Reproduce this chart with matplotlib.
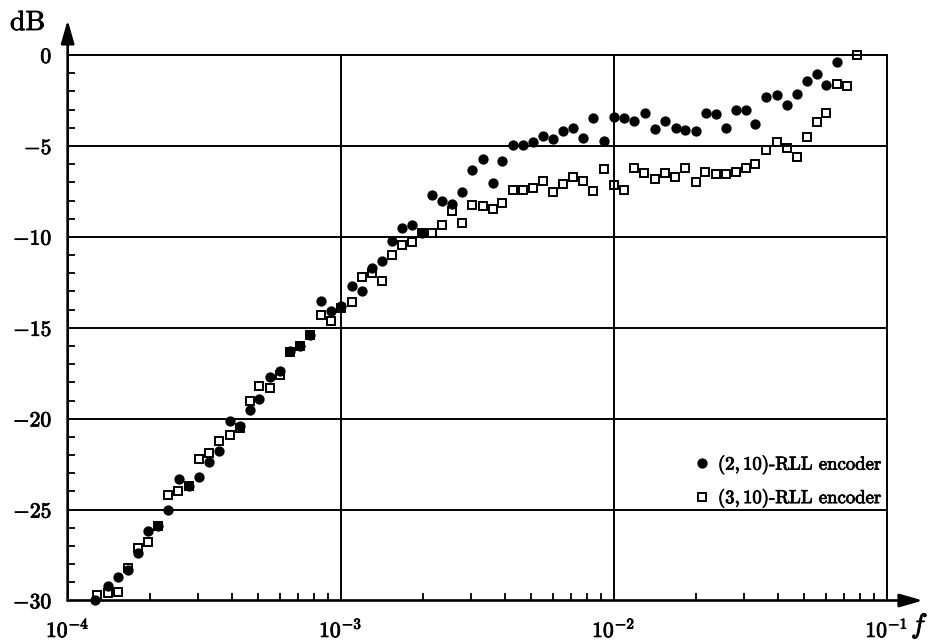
import numpy as np
import matplotlib
matplotlib.use("Agg")
import matplotlib.pyplot as plt
import matplotlib.patheffects as pe
from matplotlib.ticker import FixedLocator, NullFormatter

plt.rcParams['font.family'] = ['cmr10', 'DejaVu Serif']
plt.rcParams['mathtext.fontset'] = 'cm'
plt.rcParams['axes.unicode_minus'] = False

# (2,10)-RLL encoder: frequency and level (dB)
f_rll210 = [1.260e-4, 1.408e-4, 1.524e-4, 1.668e-4, 1.805e-4, 1.963e-4, 2.149e-4, 2.336e-4,
            2.557e-4, 2.787e-4, 3.038e-4, 3.302e-4, 3.590e-4, 3.930e-4, 4.272e-4, 4.656e-4,
            5.030e-4, 5.503e-4, 5.998e-4, 6.521e-4, 7.091e-4, 7.725e-4, 8.439e-4, 9.216e-4,
            1.0018e-3, 1.097e-3, 1.193e-3, 1.299e-3, 1.413e-3, 1.547e-3, 1.681e-3, 1.828e-3,
            1.992e-3, 2.165e-3, 2.354e-3, 2.565e-3, 2.789e-3, 3.033e-3, 3.328e-3, 3.619e-3,
            3.915e-3, 4.286e-3, 4.661e-3, 5.077e-3, 5.521e-3, 6.003e-3, 6.539e-3, 7.109e-3,
            7.731e-3, 8.427e-3, 9.202e-3, 1.0051e-2, 1.093e-2, 1.191e-2, 1.303e-2, 1.417e-2,
            1.541e-2, 1.687e-2, 1.825e-2, 1.998e-2, 2.173e-2, 2.362e-2, 2.580e-2, 2.798e-2,
            3.042e-2, 3.307e-2, 3.613e-2, 3.956e-2, 4.300e-2, 4.675e-2, 5.094e-2, 5.537e-2,
            6.020e-2, 6.561e-2]
db_rll210 = [-30.0, -29.2, -28.7, -28.3, -27.4, -26.2, -25.9, -25.0,
             -23.3, -23.7, -23.2, -22.4, -21.8, -20.1, -20.4, -19.5,
             -18.9, -17.7, -17.4, -16.3, -16.0, -15.4, -13.5, -14.1,
             -13.8, -12.7, -13.0, -11.7, -11.3, -10.2, -9.5, -9.35,
             -9.8, -7.7, -8.0, -8.2, -7.55, -6.3, -5.7, -7.05,
             -5.85, -4.94, -4.94, -4.8, -4.46, -4.6, -4.15, -4.0,
             -4.57, -3.47, -4.7, -3.4, -3.47, -3.65, -3.19, -4.06,
             -3.65, -4.02, -4.11, -4.2, -3.19, -3.26, -4.0, -3.0,
             -3.0, -3.78, -2.3, -2.17, -2.73, -2.16, -1.42, -1.05,
             -1.66, -0.4]

# (3,10)-RLL encoder
f_rll310 = [1.286e-4, 1.402e-4, 1.524e-4, 1.668e-4, 1.805e-4, 1.972e-4, 2.149e-4, 2.336e-4,
            2.545e-4, 2.787e-4, 3.038e-4, 3.302e-4, 3.590e-4, 3.930e-4, 4.272e-4, 4.656e-4,
            5.030e-4, 5.503e-4, 5.998e-4, 6.521e-4, 7.091e-4, 7.725e-4, 8.439e-4, 9.216e-4,
            1.0018e-3, 1.097e-3, 1.193e-3, 1.299e-3, 1.413e-3, 1.547e-3, 1.681e-3, 1.828e-3,
            1.992e-3, 2.165e-3, 2.354e-3, 2.565e-3, 2.789e-3, 3.033e-3, 3.313e-3, 3.602e-3,
            3.915e-3, 4.286e-3, 4.661e-3, 5.077e-3, 5.521e-3, 6.003e-3, 6.539e-3, 7.109e-3,
            7.731e-3, 8.427e-3, 9.202e-3, 1.0051e-2, 1.093e-2, 1.191e-2, 1.294e-2, 1.417e-2,
            1.541e-2, 1.679e-2, 1.825e-2, 1.998e-2, 2.163e-2, 2.362e-2, 2.574e-2, 2.798e-2,
            3.042e-2, 3.307e-2, 3.613e-2, 3.956e-2, 4.300e-2, 4.675e-2, 5.094e-2, 5.537e-2,
            6.020e-2, 6.561e-2, 7.132e-2, 7.762e-2]
db_rll310 = [-29.7, -29.6, -29.55, -28.2, -27.1, -26.8, -25.9, -24.2,
             -24.0, -23.7, -22.2, -21.9, -21.2, -20.9, -20.5, -19.0,
             -18.2, -18.3, -17.6, -16.35, -16.0, -15.4, -14.3, -14.6,
             -13.9, -13.6, -12.2, -12.0, -12.4, -11.0, -10.45, -10.3,
             -9.8, -9.8, -9.35, -8.6, -9.25, -8.25, -8.3, -8.45,
             -8.15, -7.43, -7.4, -7.3, -6.95, -7.55, -7.1, -6.7,
             -6.9, -7.47, -6.27, -7.13, -7.43, -6.23, -6.47, -6.82,
             -6.49, -6.69, -6.23, -7.0, -6.45, -6.54, -6.54, -6.42,
             -6.21, -5.99, -5.22, -4.8, -5.13, -5.59, -4.52, -3.69,
             -3.17, -1.57, -1.7, 0.0]

labels = [r'$(2,10)$-RLL encoder', r'$(3,10)$-RLL encoder']
y_ticks = [0, -5, -10, -15, -20, -25, -30]
x_ticks = [1e-4, 1e-3, 1e-2, 1e-1]
x_tick_labels = [r'$10^{-4}$', r'$10^{-3}$', r'$10^{-2}$', r'$10^{-1}$']

ink = [pe.withStroke(linewidth=0.6, foreground='black')]

fig = plt.figure(figsize=(9.32, 6.43), dpi=100)
ax = fig.add_axes([0.0726, 0.0661, 0.9177, 0.9028])
ax.set_xscale('log')
ax.set_xlim(1e-4, 10 ** -0.867)
ax.set_ylim(-30, 1.93)
for s in ax.spines.values():
    s.set_visible(False)

# grid lines (bounded box)
for yv in y_ticks[:-1]:
    ax.plot([x_ticks[0], x_ticks[-1]], [yv, yv], color='black', lw=1.4, zorder=1)
for xv in x_ticks[1:]:
    ax.plot([xv, xv], [y_ticks[-1], y_ticks[0]], color='black', lw=1.4, zorder=1)

# axes with arrows
arrow_style = dict(arrowstyle='-|>,head_length=0.7,head_width=0.2',
                   lw=1.9, color='black', mutation_scale=20, shrinkA=0, shrinkB=0)
ax.annotate('', xy=(1.0, 0), xytext=(0, 0), xycoords='axes fraction',
            arrowprops=arrow_style, annotation_clip=False)
ax.annotate('', xy=(0, 1.0), xytext=(0, 0), xycoords='axes fraction',
            arrowprops=arrow_style, annotation_clip=False)

ax.plot(f_rll210, db_rll210, 'o', color='black', markersize=6.4, label=labels[0],
        linestyle='none', zorder=3, clip_on=False)
ax.plot(f_rll310, db_rll310, 's', markerfacecolor='none', markeredgecolor='black',
        markersize=5.4, markeredgewidth=1.4, label=labels[1], linestyle='none',
        zorder=4, clip_on=False)

# ticks
ax.set_yticks(y_ticks)
ax.set_yticklabels([r'$%d$' % v if v == 0 else r'$-%d$' % abs(v) for v in y_ticks])
ax.yaxis.set_minor_locator(FixedLocator([v for v in range(-29, 0) if v % 5 != 0]))
ax.set_xticks(x_ticks)
ax.set_xticklabels(x_tick_labels)
minors = [m * 10.0 ** e for e in (-4, -3, -2) for m in range(2, 10)]
ax.xaxis.set_minor_locator(FixedLocator(minors))
ax.xaxis.set_minor_formatter(NullFormatter())
ax.tick_params(axis='both', which='major', length=0, labelsize=15.5)
ax.tick_params(axis='y', which='major', pad=11)
ax.tick_params(axis='x', which='major', pad=12)
ax.tick_params(axis='both', which='minor', direction='in', length=5, width=1.3)
for t in ax.get_xticklabels() + ax.get_yticklabels():
    t.set_path_effects(ink)

fig.text(10 / 932, 1 - 30 / 643, 'dB', fontsize=20, ha='left', va='baseline',
         path_effects=ink)
fig.text(911 / 932, 1 - 633 / 643, r'$f$', fontsize=20, ha='left', va='baseline',
         path_effects=ink)

leg = ax.legend(loc='upper left', bbox_to_anchor=(0.735, 0.255), frameon=False,
                fontsize=13.5, handlelength=0.6, handletextpad=0.55, labelspacing=0.5,
                borderpad=0, borderaxespad=0)
for t in leg.get_texts():
    t.set_path_effects(ink)

fig.savefig('out.png', dpi=100)
